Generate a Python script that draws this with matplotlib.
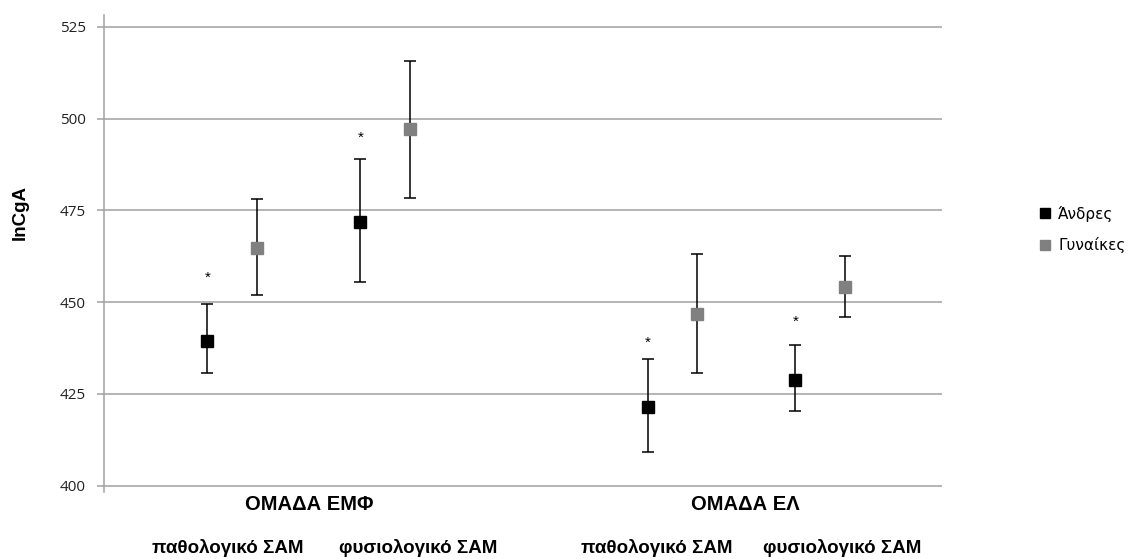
import numpy as np
import matplotlib
matplotlib.use("Agg")
import matplotlib.pyplot as plt
from matplotlib.lines import Line2D

# ---------------------------------------------------------------------------
# Data
# ---------------------------------------------------------------------------
groups     = ["ΟΜΑΔΑ ΕΜΦ", "ΟΜΑΔΑ ΕΛ"]
subgroups  = ["παθολογικό ΣΑΜ", "φυσιολογικό ΣΑΜ"]
series     = ["Άνδρες", "Γυναίκες"]

men_mean   = [439.5, 471.9, 421.5, 428.8]
men_lo     = [430.6, 455.4, 409.1, 420.3]
men_hi     = [449.4, 489.1, 434.4, 438.2]

women_mean = [464.7, 497.1, 446.8, 454.0]
women_lo   = [451.9, 478.3, 430.6, 445.9]
women_hi   = [478.0, 515.7, 463.1, 462.6]

star_y     = [456.5, 494.8, 439.0, 444.6]
y_ticks    = [400, 425, 450, 475, 500, 525]

# ---------------------------------------------------------------------------
# Layout
# ---------------------------------------------------------------------------
_W, _H = 1142, 559
_AX_L, _AX_R, _AX_B, _AX_T = 104, 942, 491.5, 15          # pixels
_SUB_CENTERS = [0.153, 0.3355, 0.6785, 0.8545]            # axes-fraction centre of each sub-group
_OFFSET      = 0.0295
_GROUP_PX    = [309, 745]
_SUBLABEL_PX = [228, 418, 657, 842]
_GRID_COLOR  = "#a0a0a0"

plt.rcParams["font.family"] = ["Liberation Sans", "DejaVu Sans"]

fig = plt.figure(figsize=(_W / 100, _H / 100), dpi=100)
ax = fig.add_axes([_AX_L / _W, 1 - _AX_B / _H, (_AX_R - _AX_L) / _W, (_AX_B - _AX_T) / _H])

ax.set_xlim(0, 1)
ax.set_ylim(398.4, 528.2)
ax.set_yticks(y_ticks)
ax.set_xticks([])

for y in y_ticks:
    ax.axhline(y, color=_GRID_COLOR, linewidth=1.1, zorder=0)

for side in ("top", "right", "bottom"):
    ax.spines[side].set_visible(False)
ax.spines["left"].set_color(_GRID_COLOR)
ax.spines["left"].set_linewidth(1.1)
ax.tick_params(axis="y", length=5, width=1.1, color=_GRID_COLOR, pad=8,
               labelsize=11, labelcolor="#222222")
for lbl in ax.get_yticklabels():
    lbl.set_family(["Open Sans", "DejaVu Sans"])

x_men   = np.array(_SUB_CENTERS) - _OFFSET
x_women = np.array(_SUB_CENTERS) + _OFFSET

men_err   = [np.array(men_mean) - np.array(men_lo), np.array(men_hi) - np.array(men_mean)]
women_err = [np.array(women_mean) - np.array(women_lo), np.array(women_hi) - np.array(women_mean)]

ax.errorbar(x_men, men_mean, yerr=men_err, fmt="s", color="black", ecolor="black",
            markersize=8.5, elinewidth=1.1, capsize=4, capthick=1.1, zorder=3)
ax.errorbar(x_women, women_mean, yerr=women_err, fmt="s", color="#808080", ecolor="black",
            markersize=8.5, elinewidth=1.1, capsize=4, capthick=1.1, zorder=3)

for xm, ys in zip(x_men, star_y):
    ax.text(xm, ys, "*", ha="center", va="center", fontsize=11, color="black")

ax.set_ylabel("lnCgA", fontsize=13.5, fontweight="bold")
ax.yaxis.set_label_coords(-0.09, 0.585)

# category labels below the plot, placed in figure pixels
for gx, g in zip(_GROUP_PX, groups):
    fig.text(gx / _W, 1 - 504 / _H, g, ha="center", va="center",
             fontsize=14.5, fontweight="bold")
for i, sx in enumerate(_SUBLABEL_PX):
    fig.text(sx / _W, 1 - 553 / _H, subgroups[i % 2], ha="center", va="baseline",
             fontsize=13.5, fontweight="bold")

handles = [
    Line2D([], [], marker="s", linestyle="none", color="black", markersize=7),
    Line2D([], [], marker="s", linestyle="none", color="#808080", markersize=7),
]
fig.legend(handles, series, loc="upper left", bbox_to_anchor=(1024 / _W, 1 - 192 / _H),
           frameon=False, handletextpad=0.35, labelspacing=1.0, handlelength=1.0,
           prop={"family": ["DejaVu Sans"], "size": 11})

fig.savefig("out.png", dpi=100)
